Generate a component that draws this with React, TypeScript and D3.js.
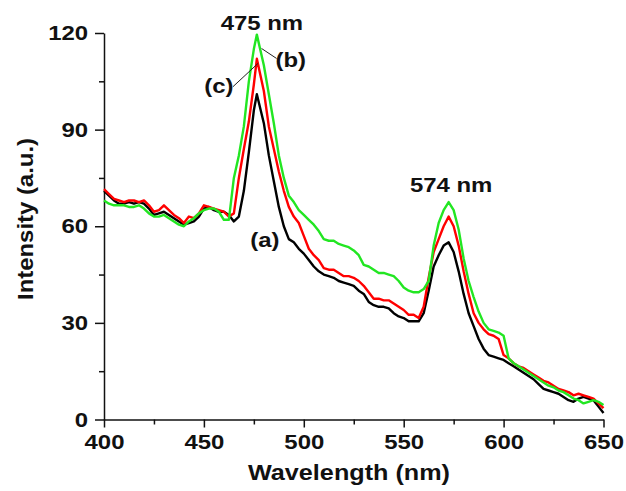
import React, { useEffect, useRef } from 'react';
import * as d3 from 'd3';

// wavelength grid (nm)
const wavelengths = [
  400, 402.5, 405, 407.5, 410, 412.5, 415, 417.5, 420, 422.5,
  425, 427.5, 430, 432.5, 435, 437.5, 440, 442.5, 445, 447.5,
  450, 452.5, 455, 457.5, 460, 462.5, 465, 467.5, 470, 472.5,
  475, 476.5, 480, 482.5, 485, 487.5, 490, 492.5, 495, 497.5,
  500, 502.5, 505, 507.5, 510, 512.5, 515, 517.5, 520, 522.5,
  525, 527.5, 530, 532.5, 535, 537.5, 540, 542.5, 545, 547.5,
  550, 552.5, 555, 557.5, 560, 562.5, 565, 567.5, 570, 572.5,
  575, 577.5, 580, 582.5, 585, 587.5, 590, 592.5, 595, 597.5,
  600, 602.5, 605, 607.5, 610, 612.5, 615, 617.5, 620, 622.5,
  625, 627.5, 630, 632.5, 635, 637.5, 640, 642.5, 645, 647.5,
  650,
];

// (a) black
const seriesA = [
  71, 69.5, 68, 67, 67, 67.5, 67, 67.5, 67, 65.5,
  63.5, 64, 64.5, 63.5, 62.5, 61.5, 60.5, 61, 61.5, 63,
  65.5, 66, 65, 64.5, 64.5, 63.5, 61.5, 63, 71, 83,
  96, 101, 92, 82, 74, 66, 60, 56, 55, 53,
  51.5, 49.5, 47.5, 46, 45, 44.5, 44, 43, 42.5, 42,
  41.5, 40, 39, 36.5, 35.5, 35, 35, 34.5, 33, 32,
  31.5, 30.5, 30.5, 30.5, 33, 40, 47.5, 51, 54, 55,
  52, 46, 39, 33, 29, 25, 22, 20, 19.5, 19,
  18.5, 17.5, 16.5, 15.5, 14.5, 13.5, 12.5, 11, 9.5, 9,
  8.5, 8, 7, 6, 5.5, 6.5, 7, 6.5, 6, 4,
  2,
];

// (b) green
const seriesB = [
  68, 67, 66.5, 66.5, 66.5, 66, 66, 66.5, 65.5, 64,
  63, 63, 63.5, 62.5, 61.5, 60.5, 60, 61.5, 62.5, 64,
  65, 65.5, 65.5, 64.5, 62, 62, 75, 82, 91, 105,
  115, 119.5, 110, 101, 92, 82, 75, 69.5, 67.5, 65,
  63.5, 62, 60.5, 58.5, 56, 55.5, 55.5, 54.5, 54, 53.5,
  52.5, 51, 48, 47.5, 46.5, 45.5, 45.5, 45, 44.5, 43,
  41, 40, 39.5, 39.5, 40.5, 43, 54, 61, 65, 67.5,
  65, 59, 50, 43, 38, 33.5, 30, 28, 27.5, 27,
  26, 19, 17.5, 16.5, 15.5, 14.5, 13.5, 12.5, 11.5, 10.5,
  10, 9, 8.5, 7.5, 6.5, 6, 5, 5.5, 6, 5.5,
  4.5,
];

// (c) red
const seriesC = [
  71.5, 70, 68.5, 68, 67.5, 68, 68, 67.5, 68, 66.5,
  64.5, 65, 66.5, 65, 63.5, 62.5, 61, 63, 62.5, 64,
  66.5, 66, 65.5, 65, 64.5, 63, 64, 75, 84, 92.5,
  104, 112, 102, 91, 84, 77, 71, 66, 63, 61,
  57, 53, 51, 49.5, 47, 46.5, 46.5, 45.5, 44.5, 44.5,
  44, 43, 41.5, 39.5, 37.5, 37.5, 37, 37, 36, 35,
  34, 32.5, 32.5, 31.5, 35, 44, 52, 56, 60, 63,
  60, 54, 46, 39, 33, 30, 28, 26.5, 26, 25,
  20, 19, 17.5, 16.5, 16, 15, 14, 13, 12, 11.5,
  10.5, 9.5, 9, 8.5, 7.5, 8, 7.5, 7, 6.5, 5,
  3.5,
];

const series = [
  { name: '(a)', color: '#000000', values: seriesA },
  { name: '(c)', color: '#ff0000', values: seriesC },
  { name: '(b)', color: '#22e622', values: seriesB },
];

const xTicks = [400, 450, 500, 550, 600, 650];
const xMinorTicks = [425, 475, 525, 575, 625];
const yTicks = [0, 30, 60, 90, 120];
const yMinorTicks = [15, 45, 75, 105];

// annotation texts: [wavelength, intensity, text]
const labels: [number, number, string][] = [
  [479, 120.9, '475 nm'],
  [573.75, 70.6, '574 nm'],
  [493.5, 109.4, '(b)'],
  [457.5, 101.4, '(c)'],
  [480.5, 53.6, '(a)'],
];

// leader lines: [w1, i1, w2, i2]
const leaders: [number, number, number, number][] = [
  [478.85, 115.2, 486.35, 112.1],
  [464.5, 103.3, 477.15, 110.6],
];

const FONT = '"Liberation Sans", Arial, sans-serif';
const STRETCH = 1.14; // the original lettering is a bit wider than Arial

const App = () => {
  const svgRef = useRef<SVGSVGElement | null>(null);

  useEffect(() => {
    if (!svgRef.current) return;
    const svg = d3.select(svgRef.current);
    svg.selectAll('*').remove();

    const x = d3.scaleLinear().domain([400, 650]).range([104, 603.5]);
    const y = d3.scaleLinear().domain([0, 120]).range([419.5, 33]);

    // minor ticks
    svg.append('g')
      .attr('transform', 'translate(0,419.5)')
      .call(d3.axisBottom(x).tickValues(xMinorTicks).tickSize(5).tickFormat(() => ''))
      .call(g => g.select('.domain').remove());
    svg.append('g')
      .attr('transform', 'translate(104,0)')
      .call(d3.axisLeft(y).tickValues(yMinorTicks).tickSize(5).tickFormat(() => ''))
      .call(g => g.select('.domain').remove());

    // X axis
    const xAxis = svg.append('g')
      .attr('transform', 'translate(0,419.5)')
      .call(d3.axisBottom(x).tickValues(xTicks).tickSize(8).tickSizeOuter(0).tickPadding(7));
    xAxis.selectAll('text')
      .attr('font-family', FONT)
      .attr('font-weight', 'bold')
      .attr('font-size', '21px')
      .attr('fill', '#111')
      .attr('transform', `scale(${STRETCH},1)`);

    // Y axis
    const yAxis = svg.append('g')
      .attr('transform', 'translate(104,0)')
      .call(d3.axisLeft(y).tickValues(yTicks).tickSize(9).tickSizeOuter(0).tickPadding(5));
    yAxis.selectAll('text')
      .attr('font-family', FONT)
      .attr('font-weight', 'bold')
      .attr('font-size', '21px')
      .attr('fill', '#111')
      .attr('transform', `scale(${STRETCH},1)`);

    svg.selectAll('.domain, .tick line')
      .attr('stroke', '#111')
      .attr('stroke-width', 1.5);

    // Lines
    const line = d3.line<number>()
      .x((_, i) => x(wavelengths[i]))
      .y(d => y(d));

    series.forEach(s => {
      svg.append('path')
        .datum(s.values)
        .attr('fill', 'none')
        .attr('stroke', s.color)
        .attr('stroke-width', 2.4)
        .attr('stroke-linejoin', 'round')
        .attr('d', line);
    });

    // leader lines
    leaders.forEach(l => {
      svg.append('line')
        .attr('x1', x(l[0]))
        .attr('y1', y(l[1]))
        .attr('x2', x(l[2]))
        .attr('y2', y(l[3]))
        .attr('stroke', '#222')
        .attr('stroke-width', 1);
    });

    // annotations
    labels.forEach(l => {
      svg.append('text')
        .attr('transform', `translate(${x(l[0])},${y(l[1])}) scale(${STRETCH},1)`)
        .attr('text-anchor', 'middle')
        .attr('font-family', FONT)
        .attr('font-weight', 'bold')
        .attr('font-size', '21px')
        .attr('fill', '#111')
        .text(l[2]);
    });

    // Axis titles
    svg.append('text')
      .attr('x', 349)
      .attr('y', 480)
      .attr('text-anchor', 'middle')
      .attr('font-family', FONT)
      .attr('font-weight', 'bold')
      .attr('font-size', '22px')
      .attr('textLength', 202)
      .attr('lengthAdjust', 'spacingAndGlyphs')
      .attr('fill', '#111')
      .text('Wavelength (nm)');

    svg.append('text')
      .attr('transform', 'translate(33,219) rotate(-90)')
      .attr('text-anchor', 'middle')
      .attr('font-family', FONT)
      .attr('font-weight', 'bold')
      .attr('font-size', '22px')
      .attr('textLength', 162)
      .attr('lengthAdjust', 'spacingAndGlyphs')
      .attr('fill', '#111')
      .text('Intensity (a.u.)');
  }, []);

  return (
    <svg
      ref={svgRef}
      width={626}
      height={491}
      style={{ position: 'absolute', left: 0, top: 0, background: '#fff' }}
    />
  );
};

export default App;
